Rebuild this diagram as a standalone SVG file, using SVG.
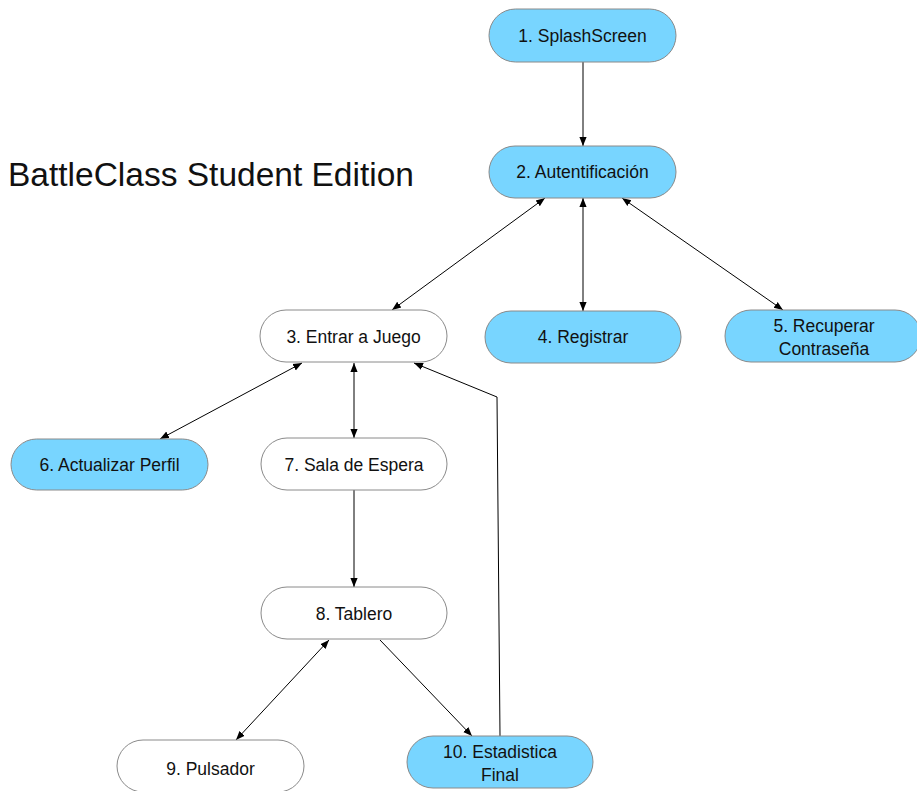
<svg xmlns="http://www.w3.org/2000/svg" width="917" height="791" viewBox="0 0 917 791">
  <style>
    .node rect { stroke: #8a8a8a; stroke-width: 1; }
    .blue rect { fill: #78d5ff; }
    .white rect { fill: #ffffff; }
    .node text { font-family: "Liberation Sans", Arial, sans-serif; font-size: 17.5px; fill: #111; text-anchor: middle; }
    .edges line, .edges polyline { stroke: #000; stroke-width: 1; fill: none; }
    .title { font-family: "Liberation Sans", Arial, sans-serif; font-size: 33.5px; fill: #111; }
  </style>
  <defs>
    <marker id="arrow" viewBox="0 0 10 10" refX="10" refY="5" markerWidth="9" markerHeight="9" markerUnits="userSpaceOnUse" orient="auto-start-reverse">
      <path d="M0,1 L10,5 L0,9 z" fill="#000"/>
    </marker>
  </defs>
  <rect width="917" height="791" fill="#fff"/>

  <text class="title" x="8" y="186">BattleClass Student Edition</text>

  <g class="edges">
    <line x1="583" y1="62" x2="583" y2="146" marker-end="url(#arrow)"/>
    <line x1="545" y1="198" x2="392" y2="310" marker-start="url(#arrow)" marker-end="url(#arrow)"/>
    <line x1="583" y1="198" x2="583" y2="311" marker-start="url(#arrow)" marker-end="url(#arrow)"/>
    <line x1="622" y1="198" x2="783" y2="310" marker-start="url(#arrow)" marker-end="url(#arrow)"/>
    <line x1="302" y1="363" x2="160" y2="439" marker-start="url(#arrow)" marker-end="url(#arrow)"/>
    <line x1="354" y1="363" x2="354" y2="438" marker-start="url(#arrow)" marker-end="url(#arrow)"/>
    <line x1="354" y1="490" x2="354" y2="587" marker-end="url(#arrow)"/>
    <line x1="329" y1="640" x2="236" y2="740" marker-start="url(#arrow)" marker-end="url(#arrow)"/>
    <line x1="380" y1="640" x2="472" y2="736" marker-end="url(#arrow)"/>
    <polyline points="500,736 497,397 414,363" marker-end="url(#arrow)"/>
  </g>

  <g id="n1" class="node blue">
    <rect x="489" y="9" width="187" height="53" rx="26.5"/>
    <text x="582.5" y="42">1. SplashScreen</text>
  </g>
  <g id="n2" class="node blue">
    <rect x="489" y="146" width="187" height="52" rx="26"/>
    <text x="582.5" y="178">2. Autentificación</text>
  </g>
  <g id="n3" class="node white">
    <rect x="260" y="310" width="187" height="52" rx="26"/>
    <text x="353.5" y="342.5">3. Entrar a Juego</text>
  </g>
  <g id="n4" class="node blue">
    <rect x="485" y="311" width="196" height="52" rx="26"/>
    <text x="583" y="343">4. Registrar</text>
  </g>
  <g id="n5" class="node blue">
    <rect x="725" y="310" width="196" height="52" rx="26"/>
    <text x="824" y="332">5. Recuperar</text>
    <text x="824" y="355">Contraseña</text>
  </g>
  <g id="n6" class="node blue">
    <rect x="11" y="439" width="197" height="51" rx="25.5"/>
    <text x="109.5" y="471">6. Actualizar Perfil</text>
  </g>
  <g id="n7" class="node white">
    <rect x="261" y="438" width="186" height="52" rx="26"/>
    <text x="354" y="470.5">7. Sala de Espera</text>
  </g>
  <g id="n8" class="node white">
    <rect x="261" y="587" width="186" height="52" rx="26"/>
    <text x="354" y="619.5">8. Tablero</text>
  </g>
  <g id="n9" class="node white">
    <rect x="117" y="740" width="187" height="52" rx="26"/>
    <text x="210.5" y="774.5">9. Pulsador</text>
  </g>
  <g id="n10" class="node blue">
    <rect x="407" y="736" width="186" height="52" rx="26"/>
    <text x="500" y="758">10. Estadistica</text>
    <text x="500" y="781">Final</text>
  </g>
</svg>
